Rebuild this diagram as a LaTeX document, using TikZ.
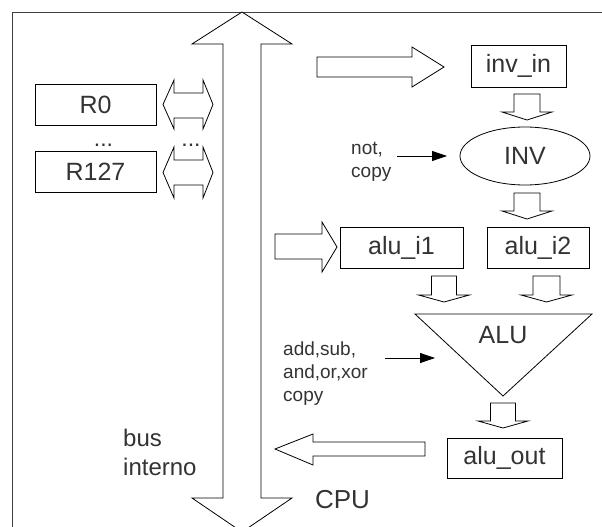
\documentclass[tikz,border=0pt]{standalone}
\usepackage{fontspec}
\setmainfont{Liberation Sans}
\usetikzlibrary{arrows.meta,shapes.geometric}
\definecolor{txt}{RGB}{51,51,51}
\newcommand\blkdown[7]{% name, cx, shaft half, head half, top, head base, tip
  \draw[blk] ({#2-#3},#5) coordinate (#1) -- ({#2+#3},#5) -- ({#2+#3},#6) -- ({#2+#4},#6) -- (#2,#7) -- ({#2-#4},#6) -- ({#2-#3},#6) -- cycle;}
\begin{document}
\begin{tikzpicture}[x=1pt,y=-1pt,
  blk/.style={draw=black,line width=0.8pt,line join=miter,fill=white},
  boxn/.style={draw=black,line width=0.8pt,inner sep=0pt,text=txt,font=\fontsize{25}{29}\selectfont},
  lbl/.style={text=txt,inner sep=0pt,align=left},
  thin/.style={draw=black,line width=0.8pt,-{Triangle[length=15pt,width=10pt]}}]
\useasboundingbox (0,0) rectangle (602,527);
\begin{scope}
\clip (0,0) rectangle (602,527);
% frame
\draw[line width=0.8pt,black!75] (12,540) -- (12,12) -- (620,12);
% bus
\draw[blk] (242,12) coordinate (bustop) -- (292,44) -- (261,44) -- (261,498) -- (292,498) -- (242,532) coordinate (busbot) -- (192,498) -- (223,498) -- (223,44) -- (192,44) -- cycle;
\end{scope}
% registers
\node[boxn,minimum width=121pt,minimum height=41pt] (r0) at (95.5,104.5) {R0};
\node[boxn,minimum width=121pt,minimum height=41pt] (r127) at (95.5,171.5) {R127};
\node[lbl,font=\fontsize{23}{27}\selectfont,anchor=base] (dots1) at (103.5,146) {...};
\node[lbl,font=\fontsize{23}{27}\selectfont,anchor=base] (dots2) at (191,146) {...};
% register double arrows
\draw[blk] (163,104.5) coordinate (r0l) -- (174,80) -- (174,93) -- (203,93) -- (203,80) -- (213,104.5) coordinate (r0r) -- (203,129) -- (203,118) -- (174,118) -- (174,129) -- cycle;
\draw[blk] (163,172.5) coordinate (r127l) -- (174,147) -- (174,160) -- (203,160) -- (203,147) -- (213,172.5) coordinate (r127r) -- (203,198) -- (203,185) -- (174,185) -- (174,198) -- cycle;
% inv_in path
\draw[blk] (317,57) -- (412,57) -- (412,47) -- (444,67) coordinate (a1tip) -- (412,87) -- (412,77) -- (317,77) -- cycle;
\node[boxn,minimum width=95pt,minimum height=42pt] (invin) at (518.5,66) {inv\_in};
\blkdown{d1}{527}{13}{25}{94}{112}{120}
\node[draw=black,line width=0.8pt,ellipse,inner sep=0pt,minimum width=130pt,minimum height=58pt,text=txt,font=\fontsize{25}{29}\selectfont] (inv) at (525,156) {INV};
\node[lbl,font=\fontsize{19}{23}\selectfont,anchor=base west] (notcopy) at (351,177) {not,\\copy};
\coordinate (nc1) at (397,156);
\coordinate (nc2) at (447,156);
\draw[thin] (nc1) -- (nc2);
\blkdown{d2}{527}{13}{25}{193}{211}{219}
% alu inputs
\draw[blk] (275,234) -- (322,234) -- (322,222) -- (337,247) coordinate (a2tip) -- (322,272) -- (322,259) -- (275,259) -- cycle;
\node[boxn,minimum width=123pt,minimum height=41pt] (alui1) at (401.5,247.5) {alu\_i1};
\node[boxn,minimum width=102pt,minimum height=41pt] (alui2) at (538,247.5) {alu\_i2};
\blkdown{d3}{444}{12.5}{25.5}{276}{295}{302}
\blkdown{d4}{546.5}{13.5}{25.5}{276}{295}{302}
% ALU
\draw[blk] (415,314) -- (592,314) -- (503,396) -- cycle;
\node[lbl,font=\fontsize{25}{29}\selectfont] (alu) at (503,335) {ALU};
\node[lbl,font=\fontsize{19}{23}\selectfont,anchor=base west] (ops) at (283,401) {add,sub,\\and,or,xor\\copy};
\coordinate (op1) at (385,358);
\coordinate (op2) at (435,358);
\draw[thin] (op1) -- (op2);
\blkdown{d5}{503}{12.5}{25}{403}{421}{428}
\node[boxn,minimum width=115pt,minimum height=40pt] (aluout) at (504.5,458) {alu\_out};
\draw[blk] (275,449) coordinate (a3tip) -- (313,434) -- (313,442) -- (425,442) -- (425,456) -- (313,456) -- (313,465) -- cycle;
% labels
\node[lbl,font=\fontsize{26}{30}\selectfont,anchor=base] (cpu) at (342.5,508) {CPU};
\node[lbl,font=\fontsize{24}{29}\selectfont,anchor=base west] (bus) at (123,475) {bus\\interno};
\end{tikzpicture}
\end{document}
